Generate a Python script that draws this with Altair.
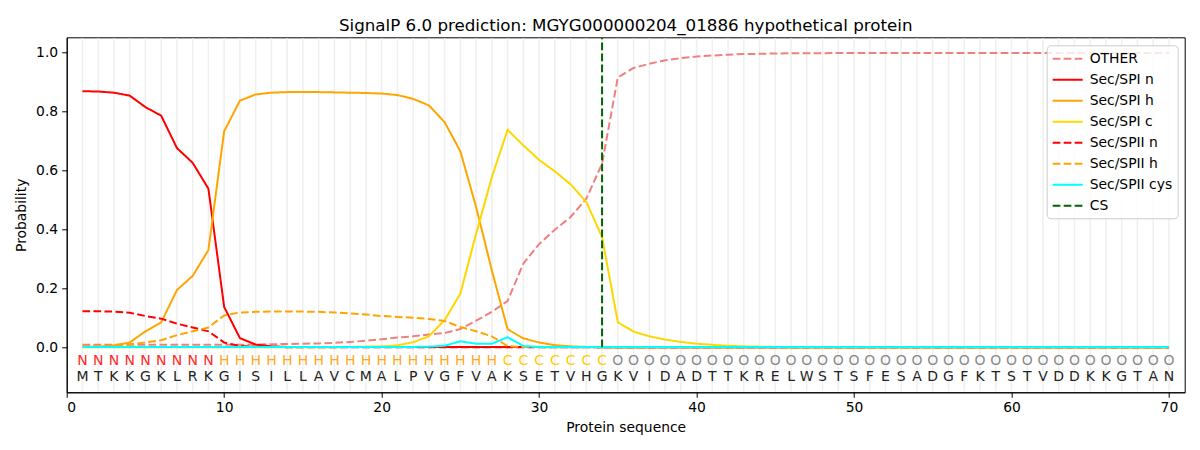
import altair as alt
import pandas as pd

# ---------------- data ----------------
sequence = list("MTKKGKLRKGISILLAVCMALPVGFVAKSETVHGKVIDADTTKRELWSTSFESADGFKTSTVDDKKGTAN")
region_labels = list("N" * 9 + "H" * 18 + "C" * 7 + "O" * 36)
positions = list(range(1, len(sequence) + 1))
cs_position = 34

other = [0.008, 0.008, 0.008, 0.008, 0.008, 0.008, 0.008, 0.008, 0.008, 0.008,
         0.008, 0.009, 0.010, 0.011, 0.012, 0.013, 0.015, 0.018, 0.022, 0.027,
         0.033, 0.037, 0.043, 0.048, 0.062, 0.090, 0.120, 0.157, 0.284, 0.350,
         0.399, 0.442, 0.504, 0.623, 0.916, 0.948, 0.962, 0.974, 0.981, 0.987,
         0.990, 0.993, 0.995, 0.996, 0.997, 0.998, 0.998, 0.998, 0.999, 0.999,
         0.999, 0.999, 0.999, 0.999, 0.999, 0.999, 0.999, 0.999, 0.999, 0.999,
         0.999, 0.999, 0.999, 0.999, 0.999, 0.999, 0.999, 0.999, 0.999, 0.999]
spi_n = [0.869, 0.868, 0.864, 0.854, 0.815, 0.786, 0.676, 0.626, 0.538, 0.137,
         0.031, 0.009, 0.003, 0.001, 0.001, 0.001, 0.001, 0.001, 0.001, 0.001,
         0.001, 0.001, 0.001, 0.001, 0.001, 0.001, 0.001, 0.001, 0.001, 0.001,
         0.001, 0.001, 0.001, 0.0, 0.0, 0.0, 0.0, 0.0, 0.0, 0.0,
         0.0, 0.0, 0.0, 0.0, 0.0, 0.0, 0.0, 0.0, 0.0, 0.0,
         0.0, 0.0, 0.0, 0.0, 0.0, 0.0, 0.0, 0.0, 0.0, 0.0,
         0.0, 0.0, 0.0, 0.0, 0.0, 0.0, 0.0, 0.0, 0.0, 0.0]
spi_h = [0.001, 0.002, 0.006, 0.016, 0.054, 0.084, 0.194, 0.242, 0.330, 0.733,
         0.837, 0.858, 0.864, 0.866, 0.866, 0.866, 0.865, 0.864, 0.863, 0.861,
         0.856, 0.843, 0.821, 0.764, 0.665, 0.476, 0.261, 0.061, 0.030, 0.016,
         0.007, 0.003, 0.001, 0.001, 0.0, 0.0, 0.0, 0.0, 0.0, 0.0,
         0.0, 0.0, 0.0, 0.0, 0.0, 0.0, 0.0, 0.0, 0.0, 0.0,
         0.0, 0.0, 0.0, 0.0, 0.0, 0.0, 0.0, 0.0, 0.0, 0.0,
         0.0, 0.0, 0.0, 0.0, 0.0, 0.0, 0.0, 0.0, 0.0, 0.0]
spi_c = [0.0, 0.0, 0.0, 0.0, 0.0, 0.0, 0.0, 0.0, 0.0, 0.0,
         0.0, 0.0, 0.0, 0.0, 0.0, 0.0, 0.0, 0.001, 0.002, 0.003,
         0.006, 0.017, 0.037, 0.092, 0.182, 0.385, 0.577, 0.738, 0.685, 0.636,
         0.597, 0.553, 0.493, 0.374, 0.085, 0.053, 0.037, 0.026, 0.018, 0.012,
         0.008, 0.005, 0.003, 0.002, 0.001, 0.0, 0.0, 0.0, 0.0, 0.0,
         0.0, 0.0, 0.0, 0.0, 0.0, 0.0, 0.0, 0.0, 0.0, 0.0,
         0.0, 0.0, 0.0, 0.0, 0.0, 0.0, 0.0, 0.0, 0.0, 0.0]
spii_n = [0.122, 0.122, 0.121, 0.117, 0.106, 0.097, 0.080, 0.067, 0.054, 0.016,
          0.004, 0.002, 0.001, 0.0, 0.0, 0.0, 0.0, 0.0, 0.0, 0.0,
          0.0, 0.0, 0.0, 0.0, 0.0, 0.0, 0.0, 0.0, 0.0, 0.0,
          0.0, 0.0, 0.0, 0.0, 0.0, 0.0, 0.0, 0.0, 0.0, 0.0,
          0.0, 0.0, 0.0, 0.0, 0.0, 0.0, 0.0, 0.0, 0.0, 0.0,
          0.0, 0.0, 0.0, 0.0, 0.0, 0.0, 0.0, 0.0, 0.0, 0.0,
          0.0, 0.0, 0.0, 0.0, 0.0, 0.0, 0.0, 0.0, 0.0, 0.0]
spii_h = [0.003, 0.003, 0.004, 0.010, 0.016, 0.024, 0.041, 0.054, 0.067, 0.108,
          0.118, 0.120, 0.121, 0.121, 0.121, 0.120, 0.118, 0.115, 0.111, 0.106,
          0.103, 0.100, 0.096, 0.089, 0.069, 0.054, 0.037, 0.004, 0.001, 0.0,
          0.0, 0.0, 0.0, 0.0, 0.0, 0.0, 0.0, 0.0, 0.0, 0.0,
          0.0, 0.0, 0.0, 0.0, 0.0, 0.0, 0.0, 0.0, 0.0, 0.0,
          0.0, 0.0, 0.0, 0.0, 0.0, 0.0, 0.0, 0.0, 0.0, 0.0,
          0.0, 0.0, 0.0, 0.0, 0.0, 0.0, 0.0, 0.0, 0.0, 0.0]
spii_cys = [0.001, 0.001, 0.001, 0.001, 0.001, 0.001, 0.001, 0.001, 0.001, 0.001,
            0.001, 0.001, 0.001, 0.001, 0.001, 0.001, 0.001, 0.001, 0.001, 0.001,
            0.001, 0.001, 0.002, 0.005, 0.020, 0.012, 0.012, 0.034, 0.004, 0.001,
            0.001, 0.001, 0.001, 0.001, 0.001, 0.001, 0.001, 0.001, 0.001, 0.001,
            0.001, 0.001, 0.001, 0.001, 0.001, 0.001, 0.001, 0.001, 0.001, 0.001,
            0.001, 0.001, 0.001, 0.001, 0.001, 0.001, 0.001, 0.001, 0.001, 0.001,
            0.001, 0.001, 0.001, 0.001, 0.001, 0.001, 0.001, 0.001, 0.001, 0.001]

series_names = ["OTHER", "Sec/SPI n", "Sec/SPI h", "Sec/SPI c",
                "Sec/SPII n", "Sec/SPII h", "Sec/SPII cys"]
series_values = [other, spi_n, spi_h, spi_c, spii_n, spii_h, spii_cys]

# ---------------- tables ----------------
rows = []
for k, (name, vals) in enumerate(zip(series_names, series_values)):
    for p, v in zip(positions, vals):
        rows.append({"pos": p, "prob": v, "series": name, "k": k})
lines_df = pd.DataFrame(rows)
seq_df = pd.DataFrame({"pos": positions, "aa": sequence, "region": region_labels})
cs_df = pd.DataFrame({"pos": [cs_position], "series": ["CS"]})

legend_domain = series_names + ["CS"]
color_range = ["#F08080", "#FF0000", "#FFA500", "#FFD700",
               "#FF0000", "#FFA500", "#00FFFF", "#006400"]
solid = [1, 0]
dash = [7.7, 3.3]
dash_range = [dash, solid, solid, solid, dash, dash, solid, dash]

FONT = "DejaVu Sans"
X_DOMAIN = [0, 71]
Y_DOMAIN = [-0.153, 1.052]
PLOT_W = 1118
PLOT_H = 355

x_enc = alt.X("pos:Q", scale=alt.Scale(domain=X_DOMAIN, nice=False, zero=False),
              axis=alt.Axis(values=[0, 10, 20, 30, 40, 50, 60, 70], title="Protein sequence",
                            grid=False, tickSize=5, labelPadding=3, titlePadding=6,
                            domainColor="black", tickColor="black"))
y_scale = alt.Scale(domain=Y_DOMAIN, nice=False, zero=False)

color_enc = alt.Color("series:N", scale=alt.Scale(domain=legend_domain, range=color_range),
                      sort=legend_domain, legend=alt.Legend(title=None))
dash_enc = alt.StrokeDash("series:N", scale=alt.Scale(domain=legend_domain, range=dash_range),
                          sort=legend_domain, legend=alt.Legend(title=None))

grid = alt.Chart(seq_df).mark_rule(color="#efefef", strokeWidth=1.5).encode(
    x=x_enc, y=alt.value(1), y2=alt.value(PLOT_H - 1))

lines = alt.Chart(lines_df).mark_line(strokeWidth=2).encode(
    x=x_enc,
    y=alt.Y("prob:Q", scale=y_scale,
            axis=alt.Axis(values=[0, 0.2, 0.4, 0.6, 0.8, 1.0], format=".1f", title="Probability",
                          grid=False, tickSize=5, labelPadding=4, titlePadding=7,
                          domainColor="black", tickColor="black")),
    color=color_enc,
    strokeDash=dash_enc,
    order="k:Q",
    detail="series:N",
)

cs_rule = alt.Chart(cs_df).mark_rule(strokeWidth=2).encode(
    x=x_enc,
    y=alt.datum(0, scale=y_scale),
    y2=alt.datum(1.05),
    color=color_enc,
    strokeDash=dash_enc,
)

region_text = alt.Chart(seq_df).mark_text(font=FONT, fontSize=14, baseline="middle").encode(
    x=x_enc,
    y=alt.value(323.7),
    text="region:N",
    fill=alt.Fill("region:N",
                  scale=alt.Scale(domain=["N", "H", "C", "O"],
                                  range=["#FF2A2A", "#FFAA22", "#FFCC00", "#8A8A8A"]),
                  legend=None),
)

aa_text = alt.Chart(seq_df).mark_text(font=FONT, fontSize=14, baseline="middle", color="#222222").encode(
    x=x_enc,
    y=alt.value(339.4),
    text="aa:N",
)

chart = alt.layer(grid, lines, cs_rule, region_text, aa_text).resolve_scale(
    fill="independent"
).properties(
    width=PLOT_W,
    height=PLOT_H,
    padding={"left": 58.7, "top": 29.3, "right": 6, "bottom": 48},
    autosize=alt.AutoSizeParams(type="none"),
    title=alt.Title("SignalP 6.0 prediction: MGYG000000204_01886 hypothetical protein",
                    fontSize=16.7, font=FONT, fontWeight="normal", anchor="middle",
                    offset=2, color="black"),
).configure_view(
    stroke="black", strokeWidth=1
).configure_axis(
    labelFont=FONT, titleFont=FONT, labelFontSize=13.9, titleFontSize=13.9,
    titleFontWeight="normal", labelColor="black", titleColor="black"
).configure_legend(
    orient="none", legendX=980, legendY=8,
    fillColor="rgba(255,255,255,0.8)", strokeColor="#cccccc", cornerRadius=4,
    padding=5, labelFont=FONT, labelFontSize=13.9, labelColor="black",
    symbolType="M-1,0H3", symbolStrokeWidth=2, symbolSize=225, rowPadding=5,
    labelOffset=21,
)

chart.save("out.html", embed_options={"renderer": "svg", "actions": False})
